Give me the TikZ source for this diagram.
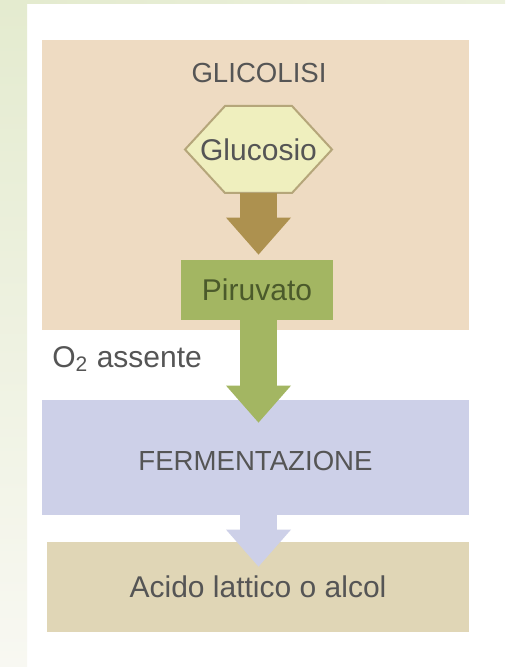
\documentclass[tikz,border=0pt]{standalone}
\usepackage{fontspec}
\setmainfont{Liberation Sans}
\RequirePackage{xcolor}
\definecolor{stripgreen}{RGB}{228,235,207}
\definecolor{stripwhite}{RGB}{248,248,242}
\definecolor{glycobeige}{RGB}{238,219,194}
\definecolor{hexyellow}{RGB}{239,239,190}
\definecolor{hexborder}{RGB}{181,166,122}
\definecolor{arrowbrown}{RGB}{173,145,79}
\definecolor{piruvgreen}{RGB}{163,182,98}
\definecolor{fermlilac}{RGB}{205,208,232}
\definecolor{acidosand}{RGB}{224,214,182}
\definecolor{labelgray}{RGB}{85,85,85}
\definecolor{piruvtext}{RGB}{75,90,43}
\usetikzlibrary{arrows.meta}

\tikzset{
  stagebox/.style={rectangle, inner sep=0pt, text=labelgray, font=\fontsize{13.8}{16}\selectfont},
  itemfont/.style={font=\fontsize{15}{18}\selectfont},
  hexline/.style={fill=hexyellow, draw=hexborder, line width=1pt, line join=miter},
  blockarrow/.style={line width=18.5pt, -{Triangle[width=32.5pt, length=18.5pt, line width=0pt]}},
}

\begin{document}
\begin{tikzpicture}[x=0.5pt, y=-0.5pt]
  \useasboundingbox (0,0) rectangle (505,667);
  \fill [white] (0,0) rectangle (505,667);
  \shade [top color=stripgreen, bottom color=stripwhite] (0,0) rectangle (27,667);
  \shade [left color=stripgreen, right color=stripgreen!70!white] (27,0) rectangle (505,4);

  % glicolisi
  \node [stagebox, fill=glycobeige, minimum width=213.5pt, minimum height=145pt] (glyco) at (255.5,185) {};
  \node [stagebox] (glytitle) at (259,73.5) {GLICOLISI};
  \draw [hexline] (185,149.5) -- (225,106) -- (292,106) -- (332,149.5) -- (292,193) -- (225,193) -- cycle;
  \node [stagebox, itemfont, minimum width=73.5pt, minimum height=43.5pt] (gluc) at (258.5,149.5) {Glucosio};
  \node [stagebox, itemfont, fill=piruvgreen, text=piruvtext, minimum width=76pt, minimum height=30pt] (piru) at (257,290) {Piruvato};

  % fermentazione
  \node [stagebox, fill=fermlilac, minimum width=213.5pt, minimum height=57.5pt, text height=13.5pt] (ferm) at (255.5,457.5) {FERMENTAZIONE};
  \node [stagebox, itemfont, fill=acidosand, minimum width=211pt, minimum height=45pt] (acido) at (258,587) {Acido lattico o alcol};

  \node [itemfont, text=labelgray, anchor=base west, inner sep=0pt] (otwo) at (52,367) {O\textsubscript{2} assente};

  \draw [blockarrow, arrowbrown, shorten >=2.5pt] (gluc.south) -- (gluc.south |- piru.north);
  \draw [blockarrow, piruvgreen, shorten >=-11.5pt] (gluc.south |- piru.south) -- (gluc.south |- ferm.north);
  \draw [blockarrow, fermlilac, shorten >=-12.5pt] (gluc.south |- ferm.south) -- (gluc.south |- acido.north);

\end{tikzpicture}
\end{document}
